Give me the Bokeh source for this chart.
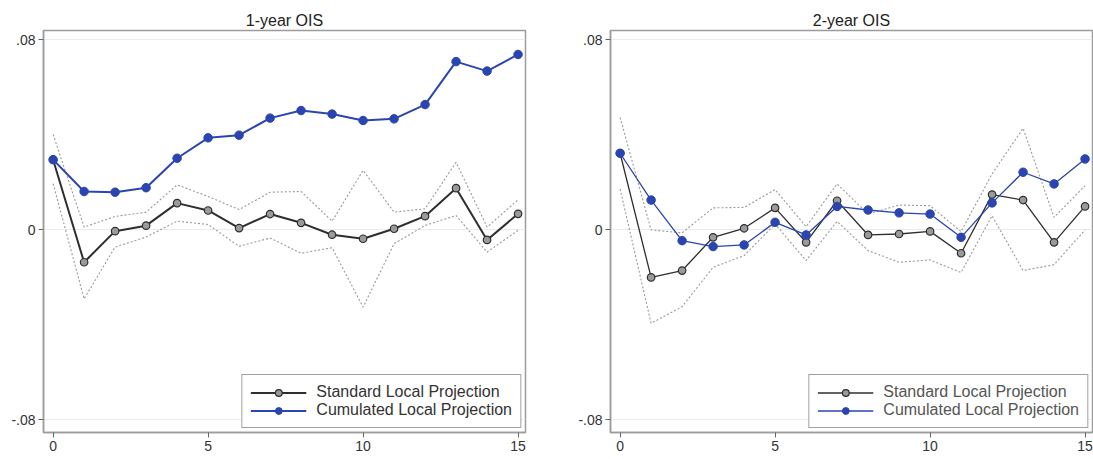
from bokeh.plotting import figure
from bokeh.models import Range1d, FixedTicker, Legend, LegendItem
from bokeh.layouts import row
from bokeh.embed import file_html
from bokeh.resources import INLINE

# ---------------- data ----------------
horizon = list(range(16))

titles = ["1-year OIS", "2-year OIS"]
series_labels = ["Standard Local Projection", "Cumulated Local Projection"]

ois1_standard = [0.0296, -0.0136, -0.0005, 0.0018, 0.0113, 0.0082, 0.0008, 0.0067,
                 0.0030, -0.0020, -0.0037, 0.0005, 0.0058, 0.0176, -0.0042, 0.0068]
ois1_upper = [0.0402, 0.0012, 0.0057, 0.0075, 0.0190, 0.0141, 0.0086, 0.0159,
              0.0162, 0.0037, 0.0251, 0.0075, 0.0089, 0.0285, 0.0012, 0.0127]
ois1_lower = [0.0195, -0.0290, -0.0072, -0.0030, 0.0037, 0.0023, -0.0069, -0.0034,
              -0.0098, -0.0075, -0.0325, -0.0058, 0.0019, 0.0061, -0.0093, -0.0002]
ois1_cumulated = [0.0296, 0.0162, 0.0159, 0.0178, 0.0302, 0.0388, 0.0399, 0.0471,
                  0.0503, 0.0488, 0.0461, 0.0468, 0.0528, 0.0709, 0.0669, 0.0739]

ois2_standard = [0.0323, -0.0200, -0.0171, -0.0031, 0.0007, 0.0093, -0.0052, 0.0123,
                 -0.0021, -0.0017, -0.0006, -0.0098, 0.0149, 0.0126, -0.0052, 0.0099]
ois2_upper = [0.0474, 0.0000, -0.0012, 0.0093, 0.0095, 0.0170, 0.0014, 0.0194,
              0.0067, 0.0105, 0.0102, -0.0007, 0.0236, 0.0428, 0.0053, 0.0187]
ois2_lower = [0.0173, -0.0393, -0.0323, -0.0157, -0.0108, 0.0025, -0.0129, 0.0036,
              -0.0087, -0.0136, -0.0126, -0.0179, 0.0060, -0.0171, -0.0146, 0.0000]
ois2_cumulated = [0.0323, 0.0126, -0.0045, -0.0070, -0.0063, 0.0032, -0.0021, 0.0099,
                  0.0084, 0.0072, 0.0067, -0.0031, 0.0114, 0.0243, 0.0194, 0.0299]

y_ticks = [-0.08, 0.0, 0.08]
y_tick_labels = ["-.08", "0", ".08"]
x_ticks = [0, 5, 10, 15]

FONT = "Liberation Sans"
BLUE = "#2b45b0"
DARK = "#2e2e2e"
CI = "#9a9a9a"
FRAME = "#9c9c9c"


def make_panel(title, std, up, lo, cum, width, border_right, lw, text_color):
    p = figure(width=width, height=459, output_backend="svg", toolbar_location=None,
               x_range=Range1d(-0.31, 15.24), y_range=Range1d(-0.0853, 0.0840),
               min_border_left=43, min_border_right=border_right,
               min_border_top=30, min_border_bottom=27)
    p.title.text = title
    p.title.align = "center"
    p.title.text_font = FONT
    p.title.text_font_size = "16px"
    p.title.text_font_style = "normal"
    p.title.text_color = "#222222"
    p.title.standoff = 4

    p.outline_line_color = FRAME
    p.outline_line_width = 1.5
    p.background_fill_color = "white"
    p.border_fill_color = "white"

    p.xgrid.visible = False
    p.ygrid.ticker = FixedTicker(ticks=y_ticks)
    p.ygrid.grid_line_color = "#e4eef1"
    p.ygrid.grid_line_width = 1

    p.yaxis.ticker = FixedTicker(ticks=y_ticks)
    p.yaxis.major_label_overrides = dict(zip(y_ticks, y_tick_labels))
    p.xaxis.ticker = FixedTicker(ticks=x_ticks)
    for ax in (p.xaxis, p.yaxis):
        ax.axis_line_color = FRAME
        ax.axis_line_width = 1.5
        ax.major_tick_line_color = "#666666"
        ax.major_tick_in = 0
        ax.major_tick_out = 5
        ax.minor_tick_line_color = None
        ax.major_label_text_font = FONT
        ax.major_label_text_font_size = "14px"
        ax.major_label_text_color = "#333333"
        ax.major_label_standoff = 3

    p.line(horizon, up, line_color=CI, line_dash="2 2", line_width=1.1)
    p.line(horizon, lo, line_color=CI, line_dash="2 2", line_width=1.1)

    l_std = p.line(horizon, std, line_color=DARK, line_width=lw)
    s_std = p.scatter(horizon, std, marker="circle", size=7.5, fill_color="#9a9a9a",
                      line_color=DARK, line_width=1.2)
    l_cum = p.line(horizon, cum, line_color=BLUE, line_width=lw)
    s_cum = p.scatter(horizon, cum, marker="circle", size=8.5, fill_color=BLUE,
                      line_color=BLUE)

    legend = Legend(items=[LegendItem(label=series_labels[0], renderers=[l_std, s_std]),
                           LegendItem(label=series_labels[1], renderers=[l_cum, s_cum])],
                    location="bottom_right")
    legend.border_line_color = "#444444"
    legend.border_line_width = 1
    legend.background_fill_color = "white"
    legend.background_fill_alpha = 1
    legend.label_text_font = FONT
    legend.label_text_font_size = "16px"
    legend.label_text_color = text_color
    legend.glyph_width = 56
    legend.glyph_height = 17
    legend.label_height = 17
    legend.spacing = 0
    legend.padding = 8
    legend.margin = 4
    legend.label_standoff = 10
    p.add_layout(legend, "center")
    return p


p1 = make_panel(titles[0], ois1_standard, ois1_upper, ois1_lower, ois1_cumulated,
                43 + 482 + 42, 42, 2.0, "#333333")
p2 = make_panel(titles[1], ois2_standard, ois2_upper, ois2_lower, ois2_cumulated,
                43 + 482 + 1, 1, 1.3, "#555555")

layout = row(p1, p2, spacing=0)
open("out.html", "w").write(file_html(layout, INLINE))
